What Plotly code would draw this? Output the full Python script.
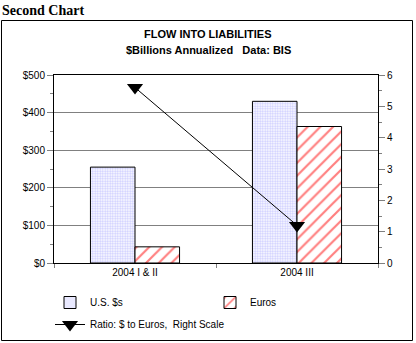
import plotly.graph_objects as go

categories = ["2004 I & II", "2004 III"]
us_dollars = [255, 430]
euros = [43, 363]
ratio = [5.6, 1.2]

W, H = 416, 343
ML, MR, MT, MB = 54, 38, 75, 80
PW, PH = W - ML - MR, H - MT - MB

def px(x):
    return (x - ML) / PW

def py(y):
    return (H - MB - y) / PH

FONT = "Arial, Liberation Sans, sans-serif"

fig = go.Figure()
fig.add_trace(go.Bar(
    x=categories, y=us_dollars, name="U.S. $s",
    marker=dict(color="white", line=dict(color="black", width=1),
                pattern=dict(shape=".", fgcolor="#9a9aff", bgcolor="white", size=2.5, solidity=0.5)),
    legend="legend",
))
fig.add_trace(go.Bar(
    x=categories, y=euros, name="Euros",
    marker=dict(color="white", line=dict(color="black", width=1),
                pattern=dict(shape="/", fgcolor="#ff0000", bgcolor="white", size=9, solidity=0.24)),
    legend="legend",
))
fig.add_trace(go.Scatter(
    x=categories, y=ratio, name="Ratio: $ to Euros,\u00a0 Right Scale", yaxis="y2",
    mode="lines+markers",
    line=dict(color="black", width=1),
    marker=dict(symbol="triangle-down", size=14, color="black"),
    legend="legend2",
))

fig.update_layout(
    width=W, height=H,
    margin=dict(l=ML, r=MR, t=MT, b=MB, pad=0, autoexpand=False),
    paper_bgcolor="white", plot_bgcolor="white",
    font=dict(family=FONT, size=10, color="black"),
    barmode="group", bargap=0.45, bargroupgap=0,
    xaxis=dict(type="category", showline=True, linecolor="black", linewidth=1, mirror=True,
               ticks="outside", tickson="boundaries", ticklen=4, tickcolor="#808080",
               showgrid=False, tickfont=dict(size=10)),
    yaxis=dict(range=[0, 500], dtick=100, tickprefix="$", showline=True, linecolor="black",
               linewidth=1, ticks="outside", ticklen=6, tickcolor="#808080",
               showgrid=True, gridcolor="#808080", gridwidth=1, zeroline=False,
               minor=dict(dtick=50, ticks="outside", ticklen=3, tickcolor="#808080"),
               tickfont=dict(size=10)),
    yaxis2=dict(range=[0, 6], dtick=1, overlaying="y", side="right", showline=True,
                linecolor="black", linewidth=1, ticks="outside", ticklen=6, tickcolor="#808080",
                showgrid=False, zeroline=False,
                minor=dict(dtick=0.5, ticks="outside", ticklen=3, tickcolor="#808080"),
                tickfont=dict(size=10)),
    legend=dict(orientation="h", x=px(50), y=py(288), xanchor="left", yanchor="top",
                entrywidth=115, entrywidthmode="pixels", font=dict(size=10, family=FONT),
                bgcolor="rgba(0,0,0,0)", traceorder="normal"),
    legend2=dict(orientation="h", x=px(50), y=py(310), xanchor="left", yanchor="top",
                 font=dict(size=10, family=FONT), bgcolor="rgba(0,0,0,0)"),
    showlegend=True,
)

fig.add_shape(type="rect", xref="paper", yref="paper",
              x0=px(1.5), x1=px(412.5), y0=py(340.5), y1=py(20.5),
              line=dict(color="black", width=1), fillcolor="rgba(0,0,0,0)", layer="below")

fig.add_annotation(text="<b>Second Chart</b>", xref="paper", yref="paper",
                   x=px(0), y=py(10), xanchor="left", yanchor="middle", showarrow=False,
                   font=dict(family="Times New Roman, Liberation Serif, serif", size=14, color="black"))
fig.add_annotation(text="<b>FLOW INTO LIABILITIES</b>", xref="paper", yref="paper",
                   x=px(208), y=py(34), xanchor="center", yanchor="middle", showarrow=False,
                   font=dict(family=FONT, size=11, color="black"))
fig.add_annotation(text="<b>$Billions Annualized\u00a0\u00a0 Data: BIS</b>", xref="paper", yref="paper",
                   x=px(208), y=py(50), xanchor="center", yanchor="middle", showarrow=False,
                   font=dict(family=FONT, size=11, color="black"))

fig.write_html("out.html")
